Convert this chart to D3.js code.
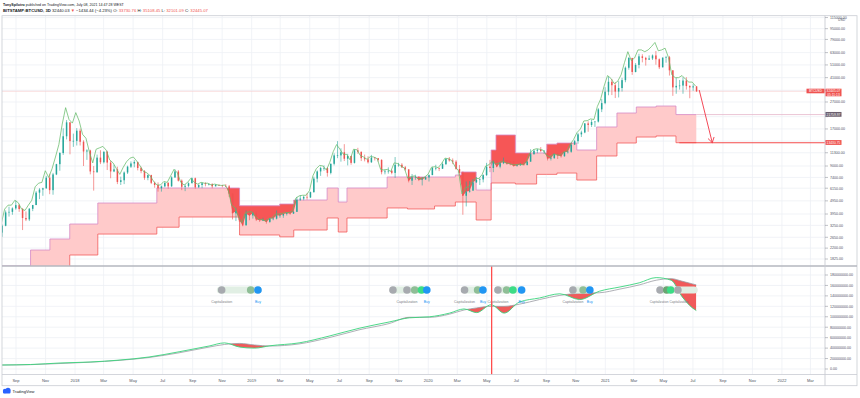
<!DOCTYPE html>
<html><head><meta charset="utf-8">
<script src="https://cdn.jsdelivr.net/npm/d3@7/dist/d3.min.js"></script>
<style>html,body{margin:0;padding:0;background:#fff;}svg{display:block;font-family:"Liberation Sans",Arial,sans-serif;}</style>
</head><body>
<svg id="chart" width="860" height="398"></svg>
<script>
// ---------- DATA ----------
const weekStart = "2017-07-31";   // weekly candles, BITSTAMP:BTCUSD
const firstOpen = 2870;
const closes = [3230,4060,4100,4350,4600,4300,3690,3600,4320,4610,5700,6010,6140,7370,5950,7790,9290,11250,15000,19040,13800,13860,
16500,13650,11550,11750,8200,8100,10400,9600,11500,9550,8200,8500,6850,7050,8050,8900,9400,9650,8700,8250,7350,7700,6750,6500,6150,6350,6750,6350,7400,8200,7000,6300,6400,6700,7300,6250,6500,6700,6600,6600,6350,6500,6450,6400,6350,5600,4000,4150,3550,3250,3950,3850,
4000,3600,3550,3550,3450,3650,3650,3850,3850,3950,4000,3980,4100,5050,5150,5300,5250,5750,7250,8200,8700,8700,8000,9350,10800,10800,11400,10200,10700,9500,11800,11500,10300,10100,9600,10400,10300,10000,8100,8200,8300,8000,9200,9200,8800,8500,7000,7400,7500,7100,7150,7400,
7700,8700,8700,8600,9300,10200,9900,9700,8550,8000,5400,5800,5900,6800,7100,7150,7700,8900,8700,9700,8900,9450,9650,9350,9300,9000,9100,9250,9150,9700,11050,11700,11900,11650,11700,10250,10300,11100,10800,10650,11400,11500,13000,13800,15500,16000,18700,18200,19150,19300,23800,26500,
32200,38200,36000,32300,34300,39300,48600,57500,45200,51000,59100,57500,55800,57000,60000,56200,49000,57800,58200,46500,34700,35600,35800,39000,35500,34700,35300,32445];
const highs = [3300,4200,4480,4430,4980,4700,4380,4130,4380,4620,5850,6160,6200,7600,7880,8000,9350,11400,17200,19800,19100,15700,
17250,17100,14000,12000,11900,9000,10950,11800,11550,11700,9900,9200,8900,7500,8200,9050,9750,9950,9700,8900,8400,7800,7750,6900,6800,6450,6800,6800,7550,8500,8400,7150,6600,6800,7400,7380,6600,6800,6800,6650,6700,6600,6550,6500,6600,6500,5600,4400,4300,3600,4200,4250,
4100,4100,3750,3700,3600,3700,3700,4200,3950,3950,4050,4100,4150,5300,5450,5400,5650,5800,7500,8350,8900,9100,8800,9400,11200,13800,12200,13100,11100,10700,12000,12300,11500,10950,10650,10900,10500,10300,10100,8500,8800,8450,10500,9500,9450,9000,8500,7850,7750,7500,7450,7500,
7800,8900,9200,8800,9600,10200,10500,10250,9950,9150,8200,6900,6950,7200,7450,7300,7800,9500,10000,9900,9900,9600,10400,9950,9800,9800,9300,9450,9250,9800,12000,11900,12100,12450,11800,12050,10600,11150,11200,10950,11500,11700,13300,14100,15900,16500,18800,19400,19900,19400,24300,28400,
34800,41900,40100,37800,38600,40900,49700,58300,57500,52600,61800,61300,58600,60100,61000,64800,57000,58000,59600,59500,46600,40800,39400,41300,41300,36000,36600,35500];
const lows = [2670,3200,3780,3900,4250,4100,3000,3500,3500,4150,4600,5100,5400,6100,5550,5500,7700,8300,10900,14200,11000,12500,
12800,12800,9000,10000,7800,5900,8000,9300,9400,8400,7300,8100,6600,6500,6600,7850,8700,8800,8350,7950,7100,7050,6600,6200,5800,5800,6250,6100,6300,7350,6900,5950,5850,6250,6700,6100,6200,6150,6350,6450,6150,6350,6400,6250,6300,5300,3600,3500,3450,3200,3250,3550,
3650,3500,3450,3500,3350,3400,3550,3600,3700,3700,3850,3900,3950,4100,4950,5000,5050,5200,5700,6800,7600,8300,7500,7800,9100,10300,9700,9800,9100,9200,9400,11100,9800,9750,9400,9500,9900,9700,7800,7800,7900,7800,7350,8900,8700,8300,6800,6500,7100,6950,6450,7100,
6900,7700,8350,8250,8550,9150,9700,9300,8450,7650,3900,4500,5700,5900,6750,6500,6800,7600,8100,8100,8800,8650,9300,9200,9100,8900,8900,9050,9050,9100,9700,10900,11200,11400,11100,9900,9900,10200,10150,10400,10550,11150,11300,12900,13200,14800,15800,16200,17600,17600,19000,22700,
26000,30300,30400,28900,29200,32300,37900,47000,43000,44900,48100,53300,50400,55800,55500,51200,47500,48800,53000,42500,30000,31100,33400,31100,33400,28800,32700,32100];
const greenLine = [3350,4300,4600,4600,5000,4800,4300,4200,4600,5000,6300,6700,6800,8300,7400,8600,10500,13000,18500,24500,20000,18800,
22500,19500,15500,14500,11500,9500,12000,12300,12600,11800,10000,9500,8600,7800,8800,9700,10300,10500,9800,9000,8200,8000,7600,6900,6500,6500,6900,6800,7600,8500,8000,6800,6500,6800,7300,6800,6600,6800,6700,6700,6500,6600,6500,6450,6500,6000,4600,4400,3800,3400,4000,4100,
4100,3800,3600,3600,3500,3650,3700,3950,3950,4000,4050,4050,4150,5200,5400,5450,5450,5900,7600,8600,9100,9000,8400,9600,11500,13000,12000,11000,11000,10000,12000,11900,10800,10500,10100,10600,10500,10200,8500,8400,8500,8200,9500,9400,9000,8700,7300,7500,7600,7250,7250,7450,
7800,8800,8900,8750,9400,10300,10200,9900,8900,8300,5600,6200,6300,6900,7300,7250,7800,9000,9200,9800,9300,9500,9800,9500,9400,9200,9200,9300,9200,9700,11200,11900,12100,12000,11800,10800,10500,11000,10900,10800,11400,11600,13100,14200,16000,17000,19500,19600,20200,20000,25000,28500,
35500,42500,40500,37000,38500,43000,53000,64000,55000,57500,66000,66000,64000,66000,70000,75000,65000,66000,68000,58000,43000,41000,41000,42500,40000,38000,38000,35500];

// stepped band
const bandDates = ['2017-08-03','2017-10-01','2017-11-10','2017-12-21','2018-02-17','2018-06-19','2018-08-04','2018-12-07','2019-02-28','2019-03-29','2019-06-06','2019-06-29','2019-07-17','2019-10-08','2019-11-19','2020-01-14','2020-02-26','2020-03-09','2020-04-09','2020-05-10','2020-05-20','2020-06-29','2020-08-12','2020-09-02','2020-09-23','2020-11-03','2020-12-14','2021-01-25','2021-03-06','2021-04-16','2021-05-27'];
const bandUpper = [1620,2130,2574,3327,4771,6172,6172,4550,4690,5023,6172,4853,6172,7453,7453,7453,7712,8126,5965,11850,15330,11260,11260,13100,13360,11850,17590,22350,24780,25200,21759.97];
const bandLower = [1400,1400,1400,1955,2800,3150,3753,2756,2670,3002,3690,2901,3690,4381,4307,4532,4853,4853,3564,6726,6726,6612,7800,7800,7978,7077,10690,13360,14800,15070,13430.75];
const bandEnd = '2021-07-08';

const lastPrice = 32445.07;
const priceTimer = '05:11:13';
const arrowFrom = ['2021-07-14', 33170];
const arrowTo = ['2021-08-10', 13430.75];

const priceTicks = [115000,95000,79000,63000,51000,41000,33000,27000,21000,17000,13800,11300,9000,7400,6150,4950,3950,3250,2650,2200,1825];

// lower pane (Capitalization indicator, values in millions)
const capDates = ['2017-08-03','2017-10-01','2017-12-01','2018-02-01','2018-04-02','2018-06-03','2018-08-04','2018-10-05','2018-11-06','2018-12-07','2019-01-07','2019-02-08','2019-04-09','2019-06-10','2019-08-11','2019-10-12','2019-11-23','2020-01-04','2020-02-14','2020-03-15','2020-04-10','2020-05-10','2020-06-06','2020-07-07','2020-08-18','2020-09-29','2020-11-09','2020-12-20','2021-01-31','2021-03-12','2021-04-16','2021-05-17','2021-06-09','2021-06-30','2021-07-08'];
const capGreen = [7.7,8.6,11.5,13.4,17,23,33,44,50,42,40,44.5,50,63,78,90,98,100,107,115,108,123,107,128,136,144,133,149,157,165,175,170,138,117,112];
const capGrey = [7.5,8.3,10.5,13,16.5,22,31,42,47,49,46,44,48,60,75,87,99,99,105,113,117,120,120,124,133,141,145,146,153,161,170,173,168,163,161];
const capTicks = [0,20,40,60,80,100,120,140,160,180];

const halvingDate = '2020-05-11';

const pillStart = ['2018-10-21','2019-10-14','2020-03-11','2020-05-18','2020-10-20','2021-04-18'];
const pillEnd   = ['2019-01-22','2020-01-04','2020-04-29','2020-07-19','2020-12-06','2021-07-11'];
const dotDates = ['2018-10-31','2018-12-30','2019-01-14','2019-10-20','2019-11-18','2019-12-04','2019-12-18','2019-12-29','2020-03-16','2020-04-12','2020-04-23','2020-05-24','2020-06-11','2020-06-24','2020-07-12','2020-10-26','2020-11-16','2020-11-30','2021-04-24','2021-05-08','2021-05-16','2021-05-31'];
const dotKinds = ['cap','mix','buy','cap','cap','mix','bright','buy','cap','mix','buy','cap','mix','bright','buy','cap','mix','buy','cap','dark','bright','cap'];
const tagDates = ['2018-10-31','2019-01-14','2019-11-18','2019-12-29','2020-03-16','2020-04-23','2020-05-24','2020-07-12','2020-10-26','2020-11-30','2021-04-24','2021-05-31'];
const tagTexts = ['Capitalization','Buy','Capitalization','Buy','Capitalization','Buy','Capitalization','Buy','Capitalization','Buy','Capitalization','Capitalization'];

const xTickDates = ['2017-09-01','2017-11-01','2018-01-01','2018-03-01','2018-05-01','2018-07-01','2018-09-01','2018-11-01','2019-01-01','2019-03-01','2019-05-01','2019-07-01','2019-09-01','2019-11-01','2020-01-01','2020-03-01','2020-05-01','2020-07-01','2020-09-01','2020-11-01','2021-01-01','2021-03-01','2021-05-01','2021-07-01','2021-09-01','2021-11-01','2022-01-01','2022-03-01'];
const xTickLabels = ['Sep','Nov','2018','Mar','May','Jul','Sep','Nov','2019','Mar','May','Jul','Sep','Nov','2020','Mar','May','Jul','Sep','Nov','2021','Mar','May','Jul','Sep','Nov','2022','Mar'];

// ---------- LAYOUT ----------
const L = 2, R = 825, FR = 857, TOP = 15.7, MB = 266, SB = 374.5, BOT = 385.7;
const parse = d3.utcParse('%Y-%m-%d');
const svg = d3.select('#chart');
const x = d3.scaleUtc().domain([parse('2017-08-03'), parse('2022-03-31')]).range([L, R]);
const y = d3.scaleLog().domain([1619, 118700]).range([MB, TOP]);
const ys = d3.scaleLinear().domain([0, 180]).range([369, 275]);

const defs = svg.append('defs');
defs.append('clipPath').attr('id','mainClip').append('rect').attr('x',L).attr('y',TOP).attr('width',R-L).attr('height',MB-TOP);
defs.append('clipPath').attr('id','subClip').append('rect').attr('x',L).attr('y',MB).attr('width',R-L).attr('height',SB-MB);

// grid
const grid = svg.append('g').attr('stroke','#edf0f5').attr('stroke-width',0.8);
xTickDates.forEach(d => { const xx = x(parse(d)); grid.append('line').attr('x1',xx).attr('x2',xx).attr('y1',TOP).attr('y2',SB); });
priceTicks.forEach(v => { const yy = y(v); if (yy > TOP && yy < MB) grid.append('line').attr('x1',L).attr('x2',R).attr('y1',yy).attr('y2',yy); });
capTicks.forEach(v => { const yy = ys(v); grid.append('line').attr('x1',L).attr('x2',R).attr('y1',yy).attr('y2',yy); });

// ---------- MAIN PANE ----------
const main = svg.append('g').attr('clip-path','url(#mainClip)');
const band = bandDates.map((d,i) => ({t: parse(d), u: bandUpper[i], l: bandLower[i]}));
band.push({t: parse(bandEnd), u: bandUpper[bandUpper.length-1], l: bandLower[bandLower.length-1]});

main.append('path').datum(band)
  .attr('d', d3.area().curve(d3.curveStepAfter).x(d=>x(d.t)).y0(d=>y(d.l)).y1(d=>y(d.u)))
  .attr('fill','#ffcaca');

// dark fill: between upper band and price where price is below it
defs.append('clipPath').attr('id','belowUpper').append('path').datum(band)
  .attr('d', d3.area().curve(d3.curveStepAfter).x(d=>x(d.t)).y0(d=>y(d.u)).y1(MB));
const day = 864e5;
const candles = closes.map((c,i) => {
  const t0 = d3.utcDay.offset(parse(weekStart), 7*i);
  return {t: new Date(+t0 + 3.5*day), o: i ? closes[i-1] : firstOpen, c, h: highs[i], l: lows[i], g: greenLine[i]};
});
main.append('g').attr('clip-path','url(#belowUpper)')
  .append('path').datum(candles)
  .attr('d', d3.area().x(d=>x(d.t)).y0(TOP).y1(d=>y(d.c)))
  .attr('fill','#f65656');

// band edges
main.append('path').datum(band).attr('d', d3.line().curve(d3.curveStepAfter).x(d=>x(d.t)).y(d=>y(d.u)))
  .attr('fill','none').attr('stroke','#d68ac6').attr('stroke-width',0.8);
main.append('path').datum(band).attr('d', d3.line().curve(d3.curveStepAfter).x(d=>x(d.t)).y(d=>y(d.l)))
  .attr('fill','none').attr('stroke','#f25c5c').attr('stroke-width',0.8);
// extensions to the right
const endX = x(parse(bandEnd));
main.append('line').attr('x1',endX).attr('x2',R).attr('y1',y(bandUpper[bandUpper.length-1])).attr('y2',y(bandUpper[bandUpper.length-1]))
  .attr('stroke','#e6b7cc').attr('stroke-width',0.8);
main.append('line').attr('x1',endX-17).attr('x2',R).attr('y1',y(bandLower[bandLower.length-1])).attr('y2',y(bandLower[bandLower.length-1]))
  .attr('stroke','#f44b4b').attr('stroke-width',1.1);
// current price line
main.append('line').attr('x1',L).attr('x2',R).attr('y1',y(lastPrice)).attr('y2',y(lastPrice))
  .attr('stroke','#f8d0d0').attr('stroke-width',0.7);

// candles
const cg = main.append('g');
candles.forEach(d => {
  const up = d.c >= d.o, col = up ? '#26a69a' : '#ef5350', cx = x(d.t);
  cg.append('line').attr('x1',cx).attr('x2',cx).attr('y1',y(d.h)).attr('y2',y(d.l)).attr('stroke',col).attr('stroke-width',0.6);
  const y1 = y(Math.max(d.o,d.c)), y2 = y(Math.min(d.o,d.c));
  cg.append('rect').attr('x',cx-0.75).attr('width',1.5).attr('y',y1).attr('height',Math.max(0.6,y2-y1)).attr('fill',col);
});
// green line
main.append('path').datum(candles).attr('d', d3.line().x(d=>x(new Date(+d.t - 2*day))).y(d=>y(d.g)))
  .attr('fill','none').attr('stroke','#66bb6a').attr('stroke-width',0.75);

// arrow
const ax1 = x(parse(arrowFrom[0])), ay1 = y(arrowFrom[1]), ax2 = x(parse(arrowTo[0])), ay2 = y(arrowTo[1]);
const ag = main.append('g').attr('stroke','#f23645').attr('stroke-width',0.9).attr('fill','none');
ag.append('line').attr('x1',ax1).attr('y1',ay1).attr('x2',ax2).attr('y2',ay2);
const ang = Math.atan2(ay2-ay1, ax2-ax1);
[-0.55, 0.55].forEach(da => {
  ag.append('line').attr('x1',ax2).attr('y1',ay2)
    .attr('x2',ax2 - 6*Math.cos(ang+da)).attr('y2',ay2 - 6*Math.sin(ang+da));
});

// ---------- SUB PANE ----------
const sub = svg.append('g').attr('clip-path','url(#subClip)');
const cap = capDates.map((d,i) => ({t: parse(d), g: capGreen[i], r: capGrey[i]}));
const crv = d3.curveMonotoneX;
defs.append('clipPath').attr('id','belowGrey').append('path').datum(cap)
  .attr('d', d3.area().curve(crv).x(d=>x(d.t)).y0(d=>ys(d.r)).y1(SB));
sub.append('g').attr('clip-path','url(#belowGrey)').append('path').datum(cap)
  .attr('d', d3.area().curve(crv).x(d=>x(d.t)).y0(MB).y1(d=>ys(d.g)))
  .attr('fill','#f05a5a');
sub.append('path').datum(cap).attr('d', d3.line().curve(crv).x(d=>x(d.t)).y(d=>ys(d.r)))
  .attr('fill','none').attr('stroke','#9a9ca3').attr('stroke-width',0.8);
sub.append('path').datum(cap).attr('d', d3.line().curve(crv).x(d=>x(d.t)).y(d=>ys(d.g)))
  .attr('fill','none').attr('stroke','#39d47c').attr('stroke-width',0.9);

// markers
const pillY = 290;
pillStart.forEach((d,i) => {
  const x1 = x(parse(d)), x2 = x(parse(pillEnd[i]));
  sub.append('rect').attr('x',x1).attr('y',pillY-3.6).attr('width',x2-x1).attr('height',7.2).attr('rx',3.6)
    .attr('fill','#e1efe4');
});
const dotCol = {cap:'#a7aaaf', mix:'#8fbe96', bright:'#3cdc86', buy:'#2196f3', dark:'#6aa572'};
dotDates.forEach((d,i) => {
  sub.append('circle').attr('cx',x(parse(d))).attr('cy',pillY).attr('r',3.8).attr('fill',dotCol[dotKinds[i]]);
});
// labels; where two labels sit closer than their width, they are pushed apart around their midpoint
const tagX = tagDates.map(d => x(parse(d)));
tagTexts.forEach((t,i) => {
  let xx = tagX[i], anchor = 'middle', fs = 3.5;
  const close = (j) => j >= 0 && j < tagX.length && tagTexts[j] === 'Capitalization' && t === 'Capitalization' && Math.abs(tagX[j]-tagX[i]) < 22;
  if (close(i+1)) { xx = (tagX[i]+tagX[i+1])/2 - 0.6; anchor = 'end'; fs = 3.1; }
  else if (close(i-1)) { xx = (tagX[i]+tagX[i-1])/2 + 0.6; anchor = 'start'; fs = 3.1; }
  sub.append('text').attr('x',xx).attr('y',303).attr('text-anchor',anchor)
    .attr('font-size',fs).attr('fill', t==='Buy' ? '#2196f3' : '#7b7e87').text(t);
});

// halving line
const hx = x(parse(halvingDate));
svg.append('line').attr('x1',hx).attr('x2',hx).attr('y1',MB).attr('y2',SB).attr('stroke','#ff4d4d').attr('stroke-width',1.3);

// ---------- FRAME ----------
const fr = svg.append('g').attr('stroke','#c9ccd3').attr('fill','none');
fr.append('rect').attr('x',L).attr('y',TOP).attr('width',FR-L).attr('height',BOT-TOP).attr('stroke-width',0.8);
fr.append('line').attr('x1',L).attr('x2',FR).attr('y1',MB).attr('y2',MB).attr('stroke','#b4b7bf').attr('stroke-width',1.4);
fr.append('line').attr('x1',L).attr('x2',FR).attr('y1',SB).attr('y2',SB).attr('stroke-width',0.8);
fr.append('line').attr('x1',R).attr('x2',R).attr('y1',TOP).attr('y2',BOT).attr('stroke-width',0.9);

// ---------- AXES ----------
const axisCol = '#4c525e';
const pa = svg.append('g');
const py = y(lastPrice);
const boxRanges = [[py-2.6, py+5], [y(bandUpper[bandUpper.length-1])-2.6, y(bandUpper[bandUpper.length-1])+2.2], [y(bandLower[bandLower.length-1])-2.6, y(bandLower[bandLower.length-1])+2.2]];
priceTicks.forEach(v => {
  const yy = y(v);
  if (yy < TOP - 1 || yy > MB) return;
  pa.append('line').attr('x1',R).attr('x2',R+3).attr('y1',yy).attr('y2',yy).attr('stroke','#9598a1').attr('stroke-width',0.6);
  if (boxRanges.some(r => yy + 1.6 > r[0] && yy - 1.6 < r[1])) return;
  pa.append('text').attr('x',R+5).attr('y',yy+1.3).attr('font-size',3.6).attr('fill',axisCol).text(d3.format('.2f')(v));
});
pa.append('text').attr('x',R+13).attr('y',21.3).attr('font-size',3.4).attr('fill',axisCol).text('USD');
capTicks.forEach(v => {
  const yy = ys(v);
  pa.append('line').attr('x1',R).attr('x2',R+3).attr('y1',yy).attr('y2',yy).attr('stroke','#9598a1').attr('stroke-width',0.6);
  pa.append('text').attr('x',R+5).attr('y',yy+1.3).attr('font-size',3.6).attr('fill',axisCol).text((v*1e6).toFixed(2));
});
xTickDates.forEach((d,i) => {
  svg.append('text').attr('x',x(parse(d))).attr('y',381.6).attr('text-anchor','middle')
    .attr('font-size',4).attr('fill',axisCol).text(xTickLabels[i]);
});

// price labels on the axis
function box(v, fill, lines, tall) {
  const yy = y(v), h = tall ? 7.6 : 4.8;
  svg.append('rect').attr('x',R+0.5).attr('y',yy-2.6).attr('width',16).attr('height',h).attr('fill',fill);
  lines.forEach((t,k) => svg.append('text').attr('x',R+8.5).attr('y',yy+1.2+k*3.6).attr('text-anchor','middle')
    .attr('font-size',3.3).attr('fill','#fff').text(t));
}
svg.append('rect').attr('x',R-18.5).attr('y',py-2.6).attr('width',18).attr('height',4.6).attr('fill','#ef5350');
svg.append('text').attr('x',R-9.5).attr('y',py+1.2).attr('text-anchor','middle').attr('font-size',3.2).attr('fill','#fff').text('BTCUSD');
box(lastPrice, '#ef5350', [d3.format('.2f')(lastPrice), priceTimer], true);
box(bandUpper[bandUpper.length-1], '#6b5f6e', [d3.format('.2f')(bandUpper[bandUpper.length-1])], false);
box(bandLower[bandLower.length-1], '#ef5350', [d3.format('.2f')(bandLower[bandLower.length-1])], false);

// ---------- HEADER ----------
function fitText(sel, target) {
  const w = sel.node().getComputedTextLength();
  const fs = +sel.attr('font-size');
  if (w > 0) sel.attr('font-size', fs * target / w);
}
const h1 = svg.append('text').attr('x',3).attr('y',6).attr('font-size',4.2).attr('fill','#131722');
h1.append('tspan').attr('font-weight','bold').text('TonySpilotro');
h1.append('tspan').text(' published on TradingView.com, July 08, 2021 14:47:28 WEST');
fitText(h1, 121);
const h2 = svg.append('text').attr('x',3).attr('y',12).attr('font-size',4.2).attr('fill','#131722');
h2.append('tspan').attr('font-weight','bold').text('BITSTAMP:BTCUSD, 3D ');
h2.append('tspan').text('32440.03 ');
h2.append('tspan').attr('fill','#ef5350').text('▼ ');
h2.append('tspan').text('−1434.44 (−4.23%) O: ');
h2.append('tspan').attr('fill','#ef5350').text('33730.76');
h2.append('tspan').text(' H: ');
h2.append('tspan').attr('fill','#ef5350').text('35108.45');
h2.append('tspan').text(' L: ');
h2.append('tspan').attr('fill','#ef5350').text('32101.09');
h2.append('tspan').text(' C: ');
h2.append('tspan').attr('fill','#ef5350').text('32445.07');
fitText(h2, 205);

// ---------- LOGO ----------
const lg = svg.append('g').attr('fill','#2962ff');
lg.append('circle').attr('cx',5).attr('cy',391).attr('r',2.2);
lg.append('circle').attr('cx',8).attr('cy',390.3).attr('r',2.6);
lg.append('rect').attr('x',3).attr('y',391).attr('width',7.5).attr('height',2.6).attr('rx',1);
svg.append('text').attr('x',12.5).attr('y',393.3).attr('font-size',4).attr('fill','#131722').text('TradingView');
</script>
</body></html>
